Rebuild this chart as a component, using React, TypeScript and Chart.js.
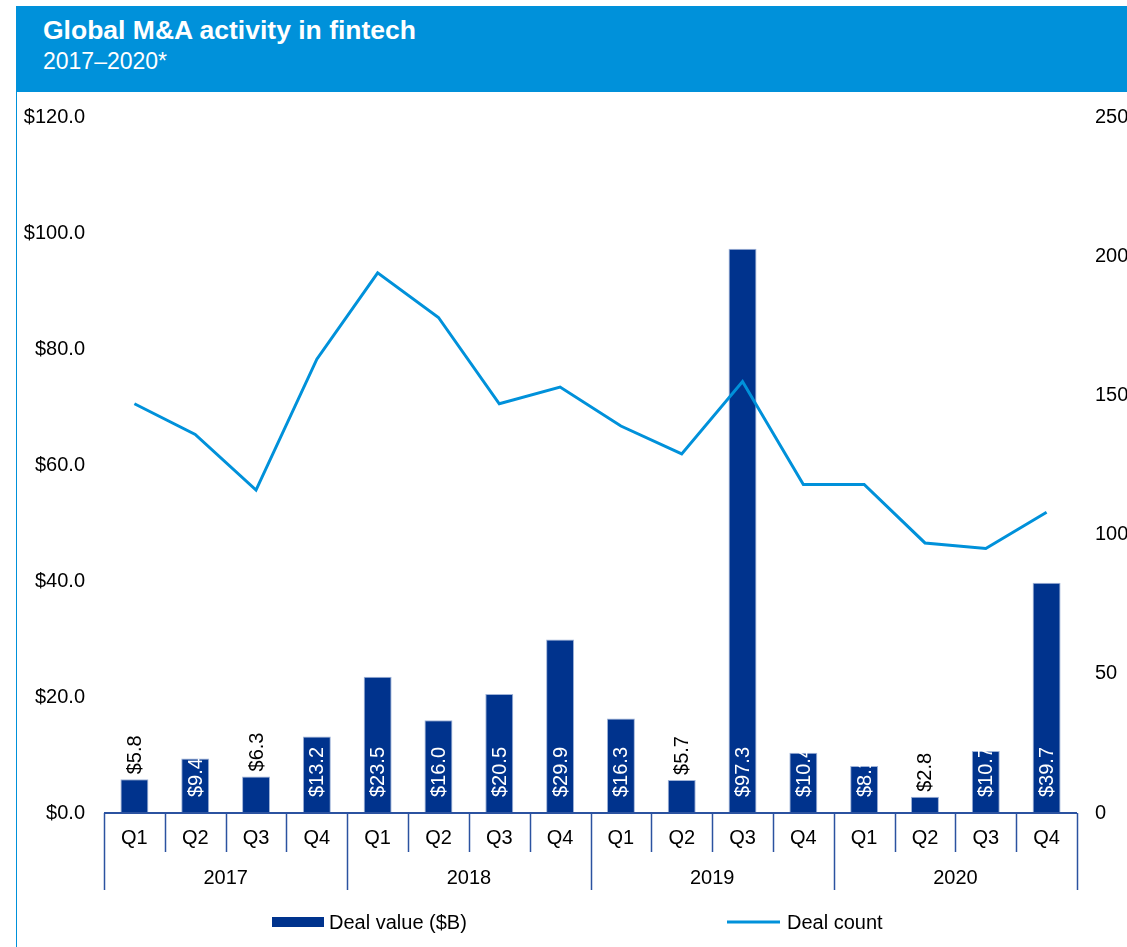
import React, { useEffect, useRef } from "react";
import { Chart, registerables } from "chart.js";

Chart.register(...registerables);

const years = ["2017", "2018", "2019", "2020"];
const quarters = ["Q1", "Q2", "Q3", "Q4"];
const categories = years.flatMap((y) => quarters.map((q) => `${y} ${q}`));
const dealValue = [5.8, 9.4, 6.3, 13.2, 23.5, 16.0, 20.5, 29.9, 16.3, 5.7, 97.3, 10.4, 8.1, 2.8, 10.7, 39.7];
const dealCount = [147, 136, 116, 163, 194, 178, 147, 153, 139, 129, 155, 118, 118, 97, 95, 108];
const valueTicks = { min: 0, max: 120, step: 20 };
const countTicks = { min: 0, max: 250, step: 50 };
const legendLabels = ["Deal value ($B)", "Deal count"];

const FONT = "Arial, 'Liberation Sans', sans-serif";
const BAR = "#00338D";
const LINE = "#0091DA";
const AXIS = "#2B52A0";
const CANVAS_TOP = 86;

const overlay = {
  id: "overlay",
  afterDatasetsDraw(chart: any) {
    const ctx = chart.ctx;
    const meta = chart.getDatasetMeta(1);
    ctx.save();
    ctx.font = `20px ${FONT}`;
    meta.data.forEach((bar: any, i: number) => {
      const v = dealValue[i];
      const text = "$" + v.toFixed(1);
      const w = ctx.measureText(text).width;
      const { x, y, base } = bar.getProps(["x", "y", "base"], true);
      const h = base - y;
      let start: number;
      let color: string;
      if (h >= w) {
        start = base - 16;
        color = "#ffffff";
      } else {
        start = y - 5;
        color = "#000000";
      }
      ctx.save();
      ctx.translate(x, start);
      ctx.rotate(-Math.PI / 2);
      ctx.textAlign = "left";
      ctx.textBaseline = "middle";
      ctx.fillStyle = color;
      ctx.fillText(text, 0, 1);
      ctx.restore();
    });
    ctx.restore();
  },
  afterDraw(chart: any) {
    const ctx = chart.ctx;
    const area = chart.chartArea;
    const n = categories.length;
    const cw = (area.right - area.left) / n;
    const b = area.bottom;
    ctx.save();
    ctx.strokeStyle = AXIS;
    ctx.lineWidth = 2;
    ctx.beginPath();
    ctx.moveTo(area.left, b);
    ctx.lineTo(area.right, b);
    ctx.stroke();
    ctx.lineWidth = 1.5;
    for (let i = 0; i <= n; i++) {
      const x = Math.round(area.left + i * cw) + 0.5;
      const len = i % 4 === 0 ? 77 : 39;
      ctx.beginPath();
      ctx.moveTo(x, b);
      ctx.lineTo(x, b + len);
      ctx.stroke();
    }
    ctx.fillStyle = "#000";
    ctx.font = `20px ${FONT}`;
    ctx.textAlign = "center";
    ctx.textBaseline = "middle";
    for (let i = 0; i < n; i++) {
      ctx.fillText(quarters[i % 4], area.left + (i + 0.5) * cw, b + 25);
    }
    years.forEach((y, j) => {
      ctx.fillText(y, area.left + (j * 4 + 2) * cw, b + 65);
    });
    const ly = b + 109;
    ctx.fillStyle = BAR;
    ctx.fillRect(272, ly - 5, 52, 10);
    ctx.fillStyle = "#000";
    ctx.textAlign = "left";
    ctx.fillText(legendLabels[0], 329, ly + 1);
    ctx.strokeStyle = LINE;
    ctx.lineWidth = 3;
    ctx.beginPath();
    ctx.moveTo(727, ly);
    ctx.lineTo(780, ly);
    ctx.stroke();
    ctx.fillText(legendLabels[1], 787, ly + 1);
    ctx.restore();
  },
};

export default function App() {
  const ref = useRef<HTMLCanvasElement | null>(null);

  useEffect(() => {
    if (!ref.current) return;
    const chart = new Chart(ref.current, {
      type: "bar",
      data: {
        labels: categories,
        datasets: [
          {
            type: "line",
            label: legendLabels[1],
            data: dealCount,
            yAxisID: "y2",
            borderColor: LINE,
            backgroundColor: LINE,
            borderWidth: 3,
            pointRadius: 0,
            tension: 0,
            order: 0,
          } as any,
          {
            type: "bar",
            label: legendLabels[0],
            data: dealValue,
            yAxisID: "y",
            backgroundColor: BAR,
            borderColor: "#9FB3D8",
            borderWidth: 1,
            barPercentage: 0.46,
            categoryPercentage: 1,
            order: 1,
          },
        ],
      },
      options: {
        responsive: false,
        maintainAspectRatio: false,
        animation: false,
        layout: { padding: { top: 0, bottom: 134, left: 0, right: 0 } },
        plugins: {
          legend: { display: false },
          tooltip: { enabled: false },
        },
        scales: {
          x: {
            type: "category",
            display: false,
            offset: true,
          },
          y: {
            position: "left",
            min: valueTicks.min,
            max: valueTicks.max,
            grid: { display: false, drawTicks: false },
            border: { display: false },
            ticks: {
              stepSize: valueTicks.step,
              padding: 19,
              color: "#000",
              font: { family: FONT, size: 20 },
              callback: (v: any) => "$" + Number(v).toFixed(1),
            },
            afterFit: (s: any) => {
              s.width = 104;
            },
          },
          y2: {
            position: "right",
            min: countTicks.min,
            max: countTicks.max,
            grid: { display: false, drawTicks: false },
            border: { display: false },
            ticks: {
              stepSize: countTicks.step,
              padding: 18,
              color: "#000",
              font: { family: FONT, size: 20 },
            },
            afterFit: (s: any) => {
              s.width = 50;
            },
          },
        },
      },
      plugins: [overlay],
    });
    return () => chart.destroy();
  }, []);

  return (
    <div
      style={{
        position: "fixed",
        top: 0,
        left: 0,
        width: 1127,
        height: 947,
        background: "#fff",
        overflow: "hidden",
        fontFamily: FONT,
      }}
    >
      <div
        style={{
          position: "absolute",
          top: 6,
          left: 16,
          width: 1111,
          height: 86,
          background: "#0091DA",
        }}
      >
        <div
          style={{
            position: "absolute",
            left: 27,
            top: 9,
            fontSize: 26.5,
            lineHeight: "30px",
            fontWeight: "bold",
            color: "#fff",
            whiteSpace: "nowrap",
          }}
        >
          Global M&amp;A activity in fintech
        </div>
        <div
          style={{
            position: "absolute",
            left: 27,
            top: 42,
            fontSize: 23,
            lineHeight: "26px",
            color: "#fff",
            whiteSpace: "nowrap",
          }}
        >
          2017–2020*
        </div>
      </div>
      <div
        style={{
          position: "absolute",
          top: 92,
          left: 16,
          width: 1,
          height: 855,
          background: "#0091DA",
        }}
      />
      <canvas
        ref={ref}
        width={1127}
        height={947 - CANVAS_TOP}
        style={{ position: "absolute", top: CANVAS_TOP, left: 0, display: "block" }}
      />
    </div>
  );
}
